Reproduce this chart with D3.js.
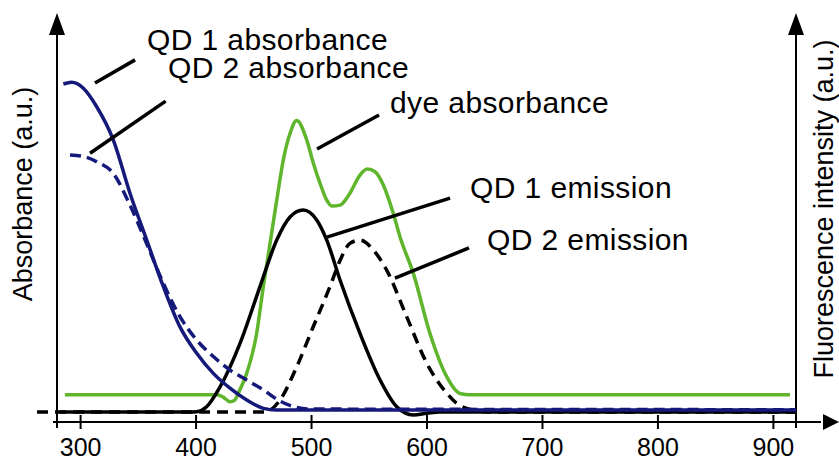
<!DOCTYPE html>
<html>
<head>
<meta charset="utf-8">
<script src="https://cdn.jsdelivr.net/npm/d3@7"></script>
<style>
    body { margin: 0; background: #fff; }
    svg text { font-family: "Liberation Sans", Arial, Helvetica, sans-serif; fill: #000; }
    .fg-curve { fill: none; stroke-width: 3.5; stroke-linejoin: round; }
    .fg-leader { stroke: #000; stroke-width: 3.5; }
    .fg-frame { stroke: #000; stroke-width: 2; fill: none; }
    .fg-note { font-size: 30px; letter-spacing: 0.4px; }
    .fg-axis-title { font-size: 27px; }
    .fg-tick line { stroke: #000; stroke-width: 2; }
    .fg-tick text { font-size: 25px; }
</style>
</head>
<body>
<svg id="fig_spec"></svg>
<script>
'use strict';

// spectra: [wavelength nm, intensity a.u.]
const qd1_abs = [[285.5, 0.994], [292.7, 0.999], [302.8, 0.981], [314.4, 0.925], [328.8, 0.824],
    [343.2, 0.663], [357.7, 0.521], [372.1, 0.380], [386.5, 0.258], [401.0, 0.178], [415.4, 0.117],
    [429.8, 0.072], [444.3, 0.036], [458.7, 0.011], [470, 0.006], [920, 0.006]];

const qd2_abs = [[291.3, 0.779], [304.2, 0.773], [314.6, 0.758], [328.8, 0.723], [343.2, 0.627],
    [357.7, 0.510], [372.1, 0.390], [386.5, 0.289], [401.0, 0.218], [415.4, 0.168], [429.8, 0.127],
    [444.3, 0.097], [458.7, 0.067], [473.1, 0.033], [486.1, 0.015], [499.1, 0.009], [920, 0.007]];

const dye_abs = [[286.9, 0.052], [418.3, 0.052], [424, 0.045], [429.8, 0.031], [434, 0.036],
    [437.0, 0.057], [444.3, 0.117], [452.9, 0.238], [458.7, 0.380], [464.5, 0.511], [470.3, 0.642],
    [476.0, 0.764], [481.8, 0.844], [487.6, 0.883], [496.3, 0.824], [502.0, 0.754], [507.8, 0.693],
    [513.6, 0.642], [517.9, 0.624], [525.1, 0.627], [533.7, 0.663], [542.4, 0.718], [548.7, 0.736],
    [555.4, 0.728], [562.6, 0.688], [571.2, 0.602], [577.0, 0.531], [588.6, 0.420], [603.0, 0.238],
    [617.5, 0.107], [629.0, 0.056], [637.7, 0.052], [914.8, 0.052]];

const qd1_em = [[282, 0], [395.2, 0], [401.0, 0.001], [409.6, 0.016], [421.2, 0.076], [438.5, 0.208],
    [455.8, 0.380], [470.3, 0.521], [481.8, 0.591], [493.3, 0.612], [504.9, 0.582], [513.6, 0.521],
    [525.1, 0.400], [542.4, 0.238], [559.8, 0.097], [574.2, 0.016], [588.6, -0.009], [600.2, -0.004],
    [611.7, 0], [920, 0]];

const qd2_em = [[262.7, 0], [460.1, 0], [473.1, 0.036], [487.6, 0.137], [502.0, 0.259], [516.4, 0.380],
    [525.1, 0.459], [533.7, 0.511], [542.4, 0.521], [553.9, 0.491], [565.5, 0.430], [582.8, 0.289],
    [600.2, 0.148], [617.5, 0.057], [626.2, 0.026], [637.7, 0.008], [655, 0], [920, 0]];

const x_ticks = [300, 400, 500, 600, 700, 800, 900];

// annotations, all in data units
const note_labels = ['QD 1 absorbance', 'QD 2 absorbance', 'dye absorbance', 'QD 1 emission', 'QD 2 emission'];
const note_text_pos = [[357.9, 1.097], [376.1, 1.012], [568.4, 0.906], [637.7, 0.648], [652.4, 0.491]];
const note_leaders = [
    [[312.9, 0.997], [347.6, 1.067]],
    [[308.6, 0.784], [374.1, 0.942]],
    [[505.2, 0.797], [558.9, 0.900]],
    [[513.8, 0.530], [620.4, 0.648]],
    [[572.7, 0.406], [636.8, 0.497]]
];

const y_titles = ['Absorbance (a.u.)', 'Fluorescence intensity (a.u.)'];

const fig = {
    width: 839,
    height: 460,
    x_min: 280,
    x_max: 920,
    axis_y: 422,
    arrow_len: 22,
    arrow_half: 8
};

const svg = d3.select('#fig_spec')
    .attr('width', fig.width)
    .attr('height', fig.height);

const x_scale = d3.scaleLinear()
    .domain([fig.x_min, fig.x_max])
    .range([57, 796]);

const y_scale = d3.scaleLinear()
    .domain([0, 1])
    .range([412, 82]);

const line = d3.line()
    .x(d => x_scale(d[0]))
    .y(d => y_scale(d[1]))
    .curve(d3.curveMonotoneX);

// draw the frame: two vertical arrows and the wavelength axis
const x_left = x_scale(fig.x_min);
const x_right = x_scale(fig.x_max);
[x_left, x_right].forEach(function(x) {
    svg.append('line').attr('class', 'fg-frame')
        .attr('x1', x).attr('x2', x)
        .attr('y1', 30).attr('y2', 428);
    svg.append('path')
        .attr('d', 'M' + x + ',13 L' + (x - fig.arrow_half) + ',35 L' + (x + fig.arrow_half) + ',35 Z')
        .attr('fill', '#000');
});

svg.append('line').attr('class', 'fg-frame')
    .attr('x1', x_left - 4).attr('x2', fig.width - 18)
    .attr('y1', fig.axis_y).attr('y2', fig.axis_y);
svg.append('path')
    .attr('d', 'M' + fig.width + ',' + fig.axis_y +
        ' L' + (fig.width - fig.arrow_len + 6) + ',' + (fig.axis_y - fig.arrow_half) +
        ' L' + (fig.width - fig.arrow_len + 6) + ',' + (fig.axis_y + fig.arrow_half) + ' Z')
    .attr('fill', '#000');

// ticks cross the axis line
const axis = d3.axisBottom(x_scale)
    .tickValues(x_ticks)
    .tickSize(14)
    .tickPadding(9)
    .tickFormat(d3.format('d'));
const g_axis = svg.append('g')
    .attr('class', 'fg-tick')
    .attr('transform', 'translate(0, ' + (fig.axis_y - 7) + ')')
    .call(axis);
g_axis.select('.domain').remove();
g_axis.selectAll('text').attr('fill', '#000');
g_axis.attr('font-size', null).attr('font-family', null);

// draw the curves, back to front
const curves = [
    [dye_abs, '#5fb52c', null],
    [qd2_em, '#000', '11,7'],
    [qd1_em, '#000', null],
    [qd2_abs, '#15197a', '11,6'],
    [qd1_abs, '#15197a', null]
];
curves.forEach(function(c) {
    svg.append('path')
        .attr('class', 'fg-curve')
        .attr('d', line(c[0]))
        .attr('stroke', c[1])
        .attr('stroke-dasharray', c[2]);
});

// leaders and labels
note_leaders.forEach(function(l, i) {
    svg.append('line').attr('class', 'fg-leader')
        .attr('x1', x_scale(l[0][0])).attr('y1', y_scale(l[0][1]))
        .attr('x2', x_scale(l[1][0])).attr('y2', y_scale(l[1][1]));
    svg.append('text').attr('class', 'fg-note')
        .attr('x', x_scale(note_text_pos[i][0]))
        .attr('y', y_scale(note_text_pos[i][1]))
        .text(note_labels[i]);
});

// axis titles
svg.append('text').attr('class', 'fg-axis-title')
    .attr('transform', 'translate(32, 194) rotate(-90)')
    .attr('text-anchor', 'middle')
    .text(y_titles[0]);
svg.append('text').attr('class', 'fg-axis-title')
    .attr('transform', 'translate(833, 209) rotate(-90)')
    .attr('text-anchor', 'middle')
    .text(y_titles[1]);
</script>
</body>
</html>
